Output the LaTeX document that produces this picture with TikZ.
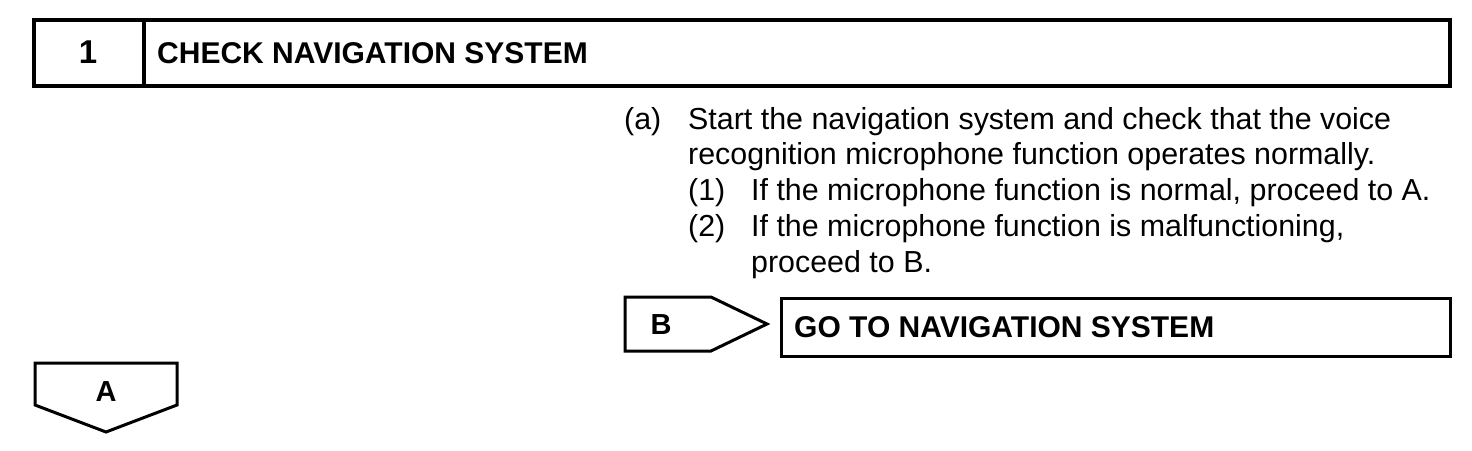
\documentclass[tikz,border=0pt]{standalone}
\usepackage{fontspec}
\setmainfont{Liberation Sans}
\tikzset{
  heavy/.style={line width=4pt, line join=miter},
  medium/.style={line width=3pt, line join=miter},
  titletext/.style={font=\fontsize{30}{36}\selectfont\bfseries, anchor=base west, inner sep=0pt},
  numtext/.style={font=\fontsize{33}{38}\selectfont\bfseries, anchor=center, inner sep=0pt},
  bodytext/.style={font=\fontsize{30.4}{36}\selectfont, anchor=base west, inner sep=0pt},
  tagtext/.style={font=\fontsize{29}{34}\selectfont\bfseries, anchor=center, inner sep=0pt},
}
\begin{document}
\begin{tikzpicture}[x=1pt,y=-1pt]
\useasboundingbox (0,0) rectangle (1472,450);
% title bar
\draw[heavy] (34,20) rectangle (1450,86);
\draw[heavy] (144,20) -- (144,86);
\node[numtext] (num) at (88,52) {1};
\node[titletext] (title) at (157,63) {CHECK NAVIGATION SYSTEM};
% body text
\node[bodytext] (la) at (624,129) {(a)};
\node[bodytext] (ta) at (688,129) {Start the navigation system and check that the voice};
\node[bodytext] (ta2) at (688,164) {recognition microphone function operates normally.};
\node[bodytext] (l1) at (688,200) {(1)};
\node[bodytext] (t1) at (751,200) {If the microphone function is normal, proceed to A.};
\node[bodytext] (l2) at (688,236) {(2)};
\node[bodytext] (t2) at (751,236) {If the microphone function is malfunctioning,};
\node[bodytext] (t22) at (751,272) {proceed to B.};
% B tag
\draw[medium] (625,297) -- (711,297) -- (767,324) -- (711,351) -- (625,351) -- cycle;
\node[tagtext] (btag) at (661,325) {B};
\draw[medium] (781,298) rectangle (1450,356);
\node[titletext] (goto) at (794,337) {GO TO NAVIGATION SYSTEM};
% A tag
\draw[medium] (35,363) -- (177,363) -- (177,405) -- (106,432) -- (35,405) -- cycle;
\node[tagtext] (atag) at (106,392) {A};
\end{tikzpicture}
\end{document}
